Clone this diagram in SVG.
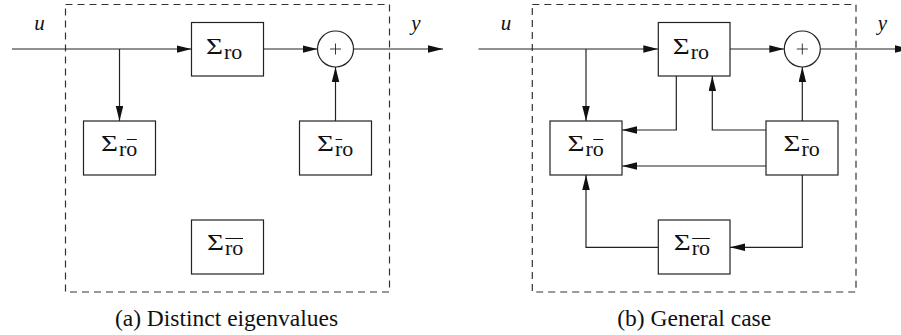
<svg xmlns="http://www.w3.org/2000/svg" width="901" height="335" viewBox="0 0 901 335">
<defs>
<marker id="ah" markerUnits="userSpaceOnUse" markerWidth="15" markerHeight="8" refX="15" refY="3.75" orient="auto">
<path d="M0,0 L15,3.75 L0,7.5 z" fill="#111"/>
</marker>
<style>
.frame{fill:none;stroke:#333;stroke-width:1.2;stroke-dasharray:7,5}
.box{fill:#fff;stroke:#222;stroke-width:1.2}
.sum{fill:#fff;stroke:#222;stroke-width:1.2}
.plus{stroke:#222;stroke-width:0.9}
.a{fill:none;stroke:#222;stroke-width:1.2;marker-end:url(#ah)}
.ol{stroke:#111;stroke-width:1}
text{font-family:'Liberation Serif','Times New Roman',Times,'DejaVu Serif',serif;fill:#111}
.sg{font-size:23px}
.sb{font-size:22px}
.io{font-style:italic;font-size:21px;text-anchor:middle}
.cap{font-size:23.5px;text-anchor:middle}
</style>
</defs>

<g id="frames">
<rect class="frame" x="65.5" y="4.5" width="324" height="287.5"/>
<rect class="frame" x="532.3" y="4.5" width="323.7" height="287.5"/>
</g>

<g id="connectors">
<line class="a" x1="12" y1="49" x2="191.5" y2="49"/>
<line class="a" x1="119.5" y1="49" x2="119.5" y2="121"/>
<line class="a" x1="263.5" y1="49" x2="317.5" y2="49"/>
<line class="a" x1="353.5" y1="49" x2="443" y2="49"/>
<line class="a" x1="335.5" y1="121" x2="335.5" y2="67"/>
<line class="a" x1="478.5" y1="49" x2="658.3" y2="49"/>
<line class="a" x1="586" y1="49" x2="586" y2="121"/>
<line class="a" x1="730" y1="49" x2="784.3" y2="49"/>
<line class="a" x1="820.3" y1="49" x2="909.7" y2="49"/>
<polyline class="a" points="676.3,76 676.3,130 622,130"/>
<polyline class="a" points="766,130 712.3,130 712.3,76"/>
<line class="a" x1="766" y1="166" x2="622" y2="166"/>
<line class="a" x1="802.3" y1="121" x2="802.3" y2="67"/>
<polyline class="a" points="802.3,175 802.3,247.3 730,247.3"/>
<polyline class="a" points="658.3,247.3 586,247.3 586,175"/>
</g>

<g id="a_ro">
<rect class="box" x="191.5" y="22.5" width="72" height="53.5"/>
<text class="sg" x="206" y="54" textLength="17" lengthAdjust="spacingAndGlyphs">Σ</text><text class="sb" x="224" y="59">ro</text>
</g>
<g id="a_sum">
<circle class="sum" cx="335.5" cy="49" r="18"/>
<line class="plus" x1="330" y1="49" x2="341" y2="49"/><line class="plus" x1="335.5" y1="43.5" x2="335.5" y2="54.5"/>
</g>
<g id="a_rob">
<rect class="box" x="83.5" y="121" width="72" height="54"/>
<text class="sg" x="101" y="151" textLength="17" lengthAdjust="spacingAndGlyphs">Σ</text><text class="sb" x="119" y="156">ro</text>
<line class="ol" x1="126.8" y1="139.5" x2="136.8" y2="139.5"/>
</g>
<g id="a_rbo">
<rect class="box" x="299.5" y="121" width="72" height="54"/>
<text class="sg" x="317" y="151" textLength="17" lengthAdjust="spacingAndGlyphs">Σ</text><text class="sb" x="335" y="156">ro</text>
<line class="ol" x1="335.6" y1="139.5" x2="342.2" y2="139.5"/>
</g>
<g id="a_robar">
<rect class="box" x="191.5" y="220" width="72" height="54"/>
<text class="sg" x="207" y="250" textLength="17" lengthAdjust="spacingAndGlyphs">Σ</text><text class="sb" x="225" y="255">ro</text>
<line class="ol" x1="225.4" y1="238.5" x2="243" y2="238.5"/>
</g>
<text class="io" x="39.5" y="30">u</text>
<text class="io" x="416" y="30">y</text>
<text class="cap" x="226.5" y="325.5">(a) Distinct eigenvalues</text>

<g id="b_ro">
<rect class="box" x="658.3" y="22.5" width="71.7" height="53.5"/>
<text class="sg" x="672.8" y="54" textLength="17" lengthAdjust="spacingAndGlyphs">Σ</text><text class="sb" x="690.8" y="59">ro</text>
</g>
<g id="b_sum">
<circle class="sum" cx="802.3" cy="49" r="18"/>
<line class="plus" x1="796.8" y1="49" x2="807.8" y2="49"/><line class="plus" x1="802.3" y1="43.5" x2="802.3" y2="54.5"/>
</g>
<g id="b_rob">
<rect class="box" x="550" y="121" width="72" height="54"/>
<text class="sg" x="567.5" y="151" textLength="17" lengthAdjust="spacingAndGlyphs">Σ</text><text class="sb" x="585.5" y="156">ro</text>
<line class="ol" x1="593.3" y1="139.5" x2="603.3" y2="139.5"/>
</g>
<g id="b_rbo">
<rect class="box" x="766" y="121" width="72" height="54"/>
<text class="sg" x="783.5" y="151" textLength="17" lengthAdjust="spacingAndGlyphs">Σ</text><text class="sb" x="801.5" y="156">ro</text>
<line class="ol" x1="802.1" y1="139.5" x2="808.7" y2="139.5"/>
</g>
<g id="b_robar">
<rect class="box" x="658.3" y="220" width="71.7" height="54"/>
<text class="sg" x="673.8" y="250" textLength="17" lengthAdjust="spacingAndGlyphs">Σ</text><text class="sb" x="691.8" y="255">ro</text>
<line class="ol" x1="692.2" y1="238.5" x2="709.8" y2="238.5"/>
</g>
<text class="io" x="506" y="30">u</text>
<text class="io" x="882.5" y="30">y</text>
<text class="cap" x="694.2" y="325.5">(b) General case</text>
</svg>
